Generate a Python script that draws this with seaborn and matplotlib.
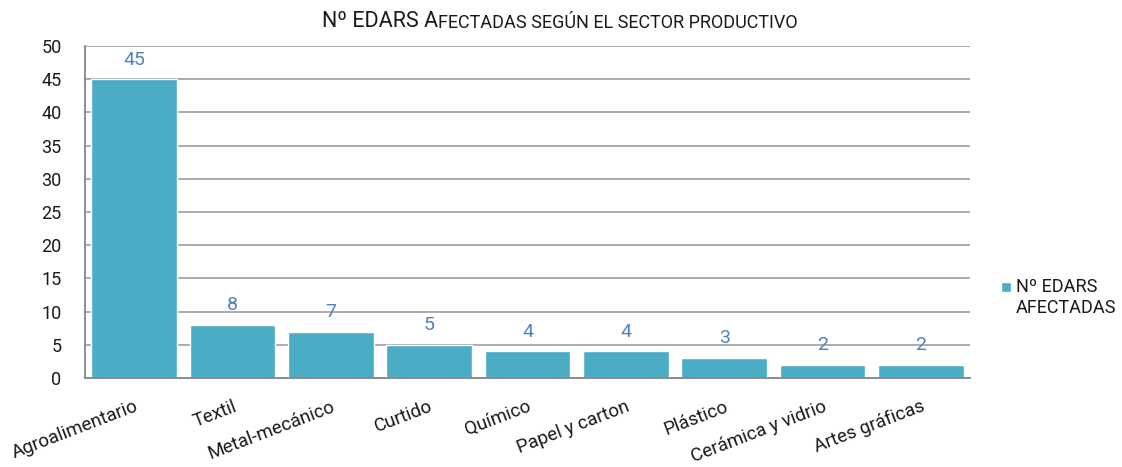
import matplotlib
matplotlib.use("Agg")
import matplotlib.pyplot as plt
import seaborn as sns

# -- data --
sectores = ["Agroalimentario", "Textil", "Metal-mecánico", "Curtido", "Químico",
            "Papel y carton", "Plástico", "Cerámica y vidrio", "Artes gráficas"]
edars = [45, 8, 7, 5, 4, 4, 3, 2, 2]
serie = "Nº EDARS\nAFECTADAS"

bar_color = "#4BACC6"
label_color = "#4F81BD"
grid_color = "#A6A6A6"
text_color = "#1a1a1a"

sns.set_style("white")
plt.rcParams["font.family"] = ["Roboto", "DejaVu Sans"]

fig = plt.figure(figsize=(11.22, 4.67), dpi=100)
ax = fig.add_axes([0.0758, 0.1906, 0.7887, 0.7109])

sns.barplot(x=sectores, y=edars, color=bar_color, saturation=1, width=0.87,
            label=serie, ax=ax)

ax.set_xlim(-0.5, len(sectores) - 0.5)
ax.set_ylim(0, 50)
ax.set_yticks(range(0, 51, 5))
ax.yaxis.grid(True, color=grid_color, linewidth=1.3)
ax.set_axisbelow(True)

for s in ["top", "right"]:
    ax.spines[s].set_visible(False)
for s in ["left", "bottom"]:
    ax.spines[s].set_color("#868686")
    ax.spines[s].set_linewidth(1.3)

# bar values
for i, v in enumerate(edars):
    ax.text(i, v + 1.6, str(v), ha="center", va="bottom", fontsize=14, color=label_color)

# tick marks between categories
ax.set_xticks([x - 0.5 for x in range(len(sectores) + 1)], minor=True)
ax.tick_params(axis="x", which="minor", length=5, width=1.3, color="#868686", direction="out")
ax.set_xticks(range(len(sectores)))
ax.set_xticklabels(sectores, rotation=21, ha="right", rotation_mode="anchor",
                   fontsize=13.5, color=text_color)
ax.tick_params(axis="x", which="major", length=0, pad=14)
ax.tick_params(axis="y", length=6, width=1.3, color="#868686", direction="out",
               labelsize=13, labelcolor=text_color, pad=11)
ax.set_xlabel("")
ax.set_ylabel("")

# legend
leg = ax.legend(loc="center left", bbox_to_anchor=(0.892, 0.363), bbox_transform=fig.transFigure,
                frameon=False, fontsize=13, handlelength=0.55, handleheight=0.55,
                handletextpad=0.3, borderpad=0, borderaxespad=0, labelspacing=0)
for t in leg.get_texts():
    t.set_color(text_color)
    t.set_linespacing(1.15)
h = leg.legend_handles[0]
h.set_y(h.get_y() + 8)

# title in small caps style
t1 = fig.text(0.287, 0.942, "Nº EDARS A", fontsize=15.5, color=text_color, va="baseline")
ax.annotate("FECTADAS SEGÚN EL SECTOR PRODUCTIVO", xy=(1, 0), xycoords=t1,
            fontsize=13, color=text_color, va="bottom", ha="left", annotation_clip=False)

fig.savefig("out.png", dpi=100)
